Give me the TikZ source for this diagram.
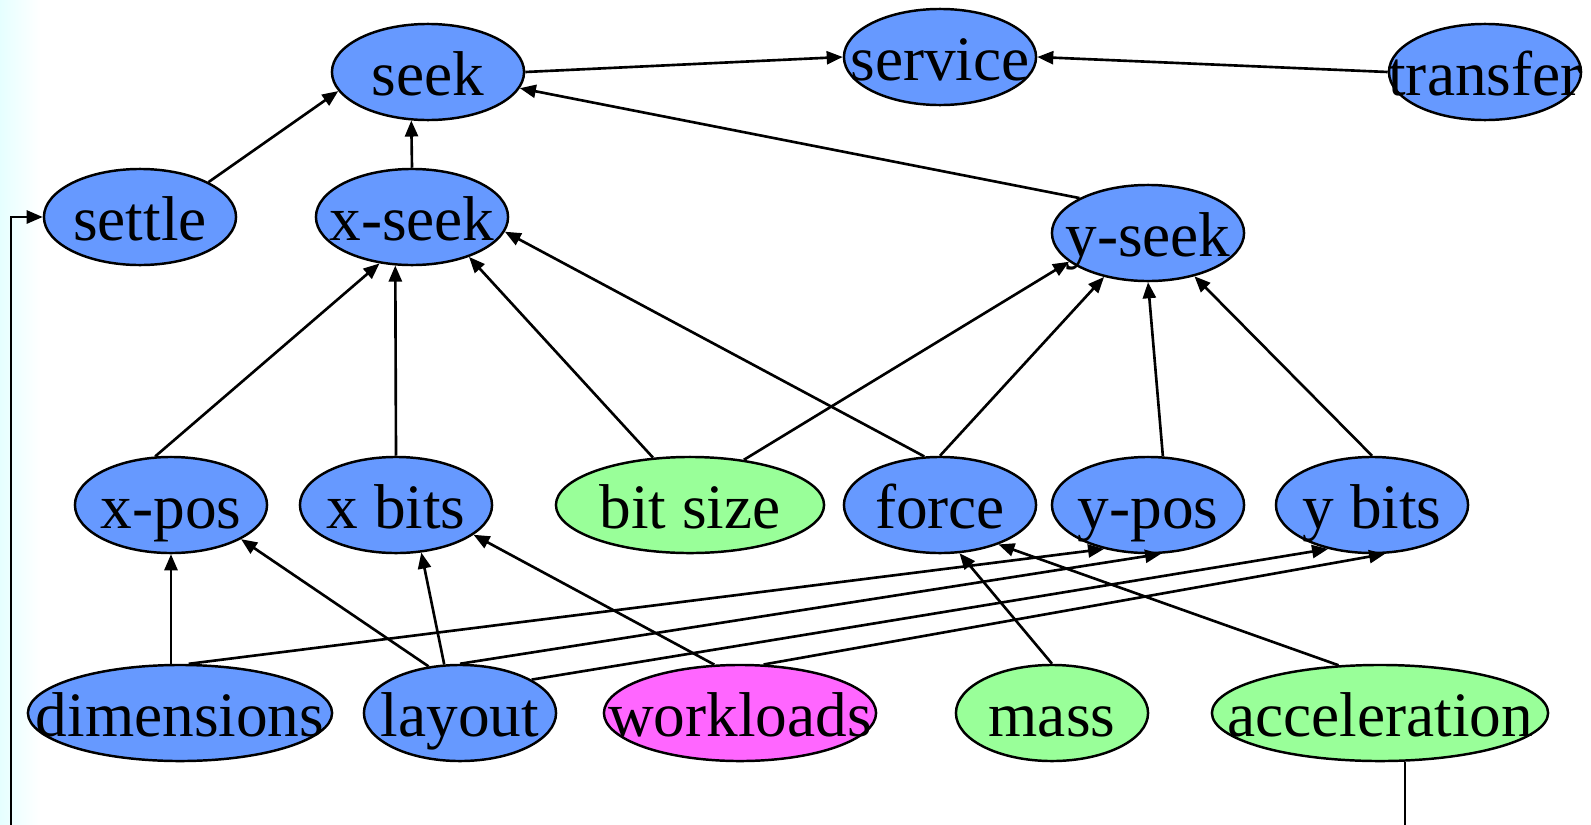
\documentclass[tikz,border=0pt]{standalone}
\usepackage{fontspec}
\setmainfont{Liberation Serif}
\usetikzlibrary{shapes.geometric, arrows.meta}
\definecolor{varblue}{RGB}{102,153,255}
\definecolor{vargreen}{RGB}{153,255,153}
\definecolor{varpink}{RGB}{255,102,255}

\begin{document}
\begin{tikzpicture}[x=0.01cm, y=-0.01cm, line width=0.75pt,
        >={Triangle[length=0.16cm, width=0.13cm]},
        var/.style={ellipse, draw, line width=0.7pt, inner sep=0pt, minimum width=1.92cm, minimum height=0.96cm,
            text height=0.5cm, text depth=0.04cm, font=\fontsize{18}{20}\selectfont,
            execute at begin node={\hbox to 0pt\bgroup\hss}, execute at end node={\hss\egroup}},
        comp/.style={var, fill=varblue},
        given/.style={var, fill=vargreen},
        load/.style={var, fill=varpink}]
            \useasboundingbox (0,0) rectangle (1591,824);
            \fill[white] (0,0) rectangle (1591,824);
            \shade[left color=cyan!10, right color=white, draw=none] (0,0) rectangle (40,824);
            \clip (0,0) rectangle (1591,824);

            \node[comp] (seek) at (428,72) {seek};
            \node[comp] (service) at (940,57) {service};
            \node[comp] (transfer) at (1485,72) {transfer};
            \node[comp] (settle) at (140,217) {settle};
            \node[comp] (xseek) at (412,217) {x-seek};
            \node[comp] (yseek) at (1148,233) {y-seek};
            \node[comp] (xpos) at (171,505) {x-pos};
            \node[comp] (xbits) at (396,505) {x bits};
            \node[given, minimum width=2.68cm] (bitsize) at (690,505) {bit size};
            \node[comp] (force) at (940,505) {force};
            \node[comp] (ypos) at (1148,505) {y-pos};
            \node[comp] (ybits) at (1372,505) {y bits};
            \node[comp, minimum width=3.04cm] (dims) at (180,713) {dimensions};
            \node[comp] (layout) at (460,713) {layout};
            \node[load, minimum width=2.72cm] (workloads) at (740,713) {workloads};
            \node[given] (mass) at (1052,713) {mass};
            \node[given, minimum width=3.36cm] (accel) at (1380,713) {acceleration};

            \draw[->] (seek.east) -- (service.west);
            \draw[->] (transfer.west) -- (service.east);
            \draw[->] (settle.27) -- (seek.192);
            \draw[->] (xseek.north) -- (seek.251);
            \draw[->] (yseek.153) -- (seek.350);
            \draw[->] (xpos.108) -- (xseek.235);
            \draw[->] (xbits.north) -- (xseek.251);
            \draw[->] (bitsize.128) -- (xseek.325);
            \draw[->] (force.108) -- (xseek.351);
            \draw[->] (bitsize.40) -- (yseek.200);
            \draw[->] (force.north) -- (yseek.225);
            \draw[->] (ypos.73) -- (yseek.south);
            \draw[->] (ybits.north) -- (yseek.317);
            \draw[->] (xpos.south |- dims.north) -- (xpos.south);
            \draw[->] (layout.124) -- (xpos.334);
            \draw[->] (layout.108) -- (xbits.298);
            \draw[->] (workloads.118) -- (xbits.339);
            \draw[->] (dims.80) -- (ypos.225);
            \draw[->] (layout.north) -- (ypos.285);
            \draw[->] (layout.25) -- (ybits.225);
            \draw[->] (workloads.64) -- (ybits.285);
            \draw[->] (mass.north) -- (force.292);
            \draw[->] (accel.131) -- (force.326);
            \coordinate (loop) at (11,860);
            \draw[->] (accel.297) |- (loop) |- (settle.west);
        \end{tikzpicture}
\end{document}
